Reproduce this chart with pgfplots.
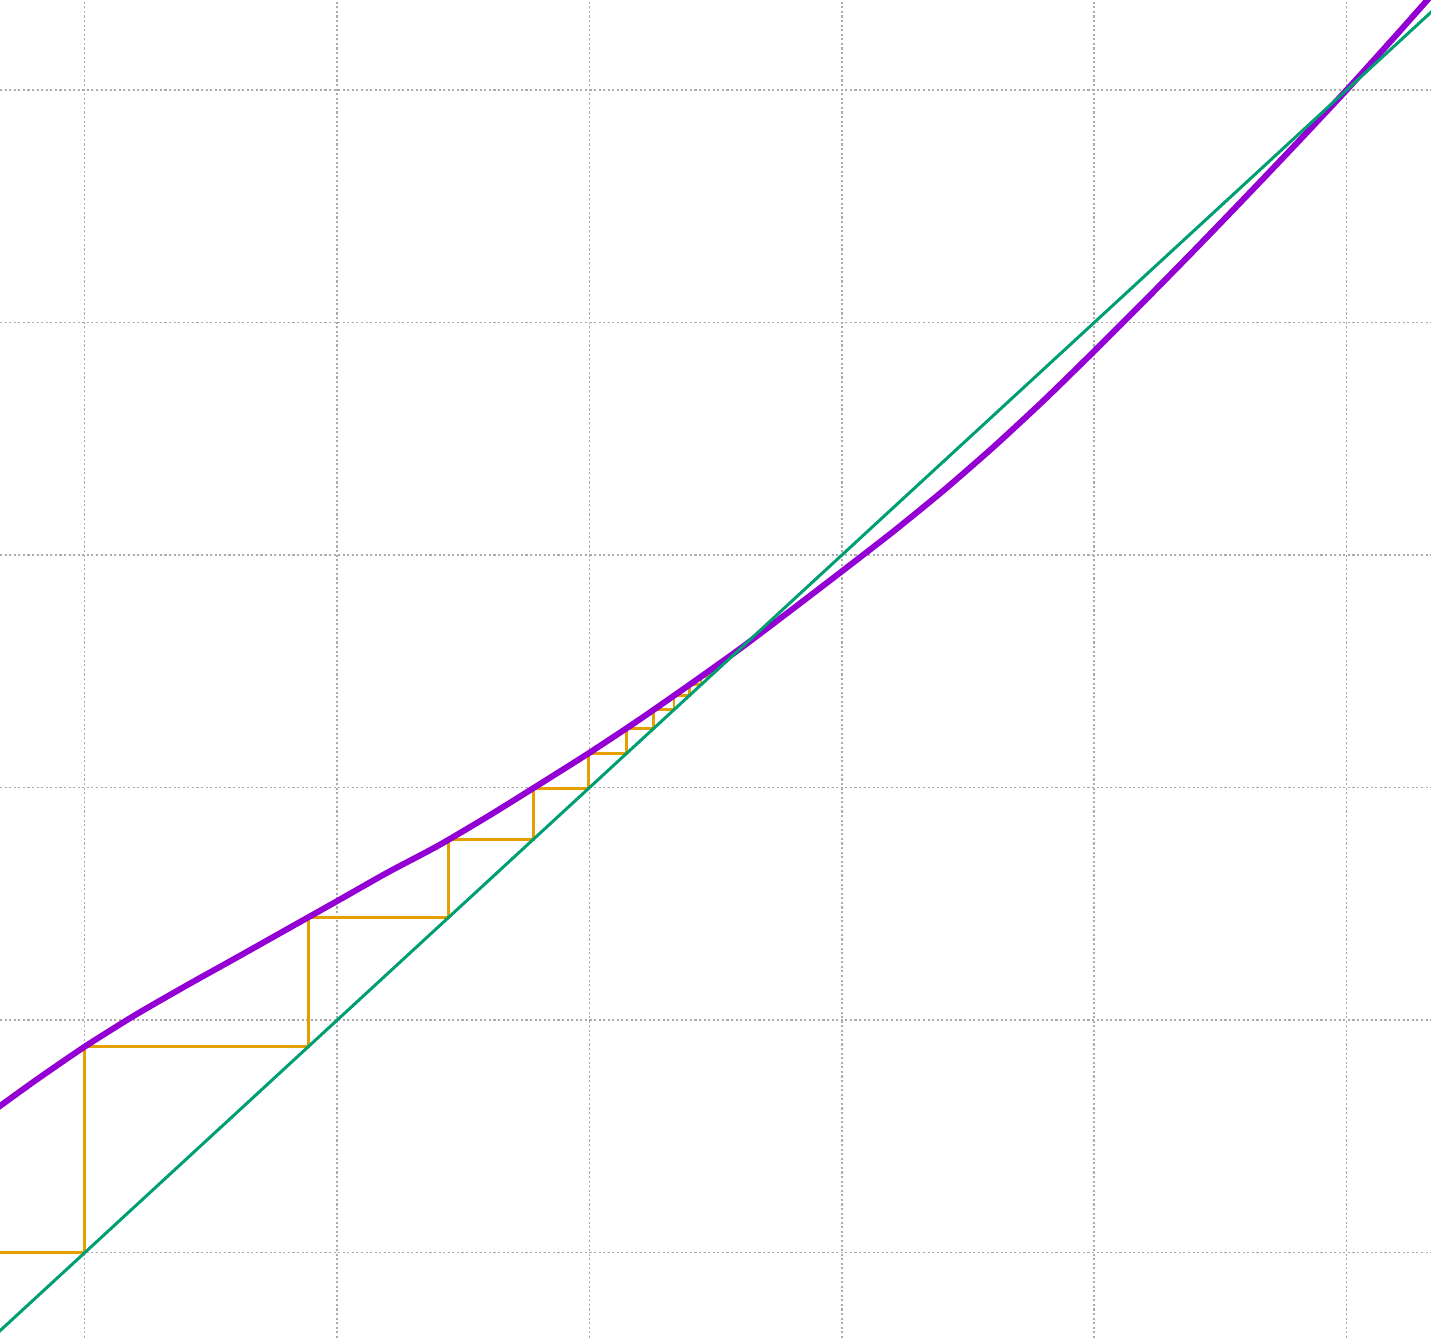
\documentclass[border=0pt]{standalone}
\usepackage{pgfplots}
\pgfplotsset{compat=1.18}
\definecolor{fcol}{HTML}{9400D3}
\definecolor{idcol}{HTML}{009E73}
\definecolor{webcol}{HTML}{E69F00}
\definecolor{gridcol}{HTML}{ABABAB}
\begin{document}
\begin{tikzpicture}
\begin{axis}[
  scale only axis,
  width=14.31cm, height=13.38cm,
  xmin=-0.3356, xmax=5.3344,
  ymin=-0.3668, ymax=5.387,
  axis line style={draw=none},
  xtick={0,1,2,3,4,5}, ytick={0,1,2,3,4,5},
  xticklabels={}, yticklabels={},
  major tick length=0pt,
  tick style={draw=none},
  grid=major,
  major grid style={gridcol, line width=0.42pt, dash pattern=on 0.6pt off 0.7pt},
  clip=true,
]
% cobweb
\addplot[webcol, line width=0.8pt, line join=miter] coordinates {
 (-0.3356,0) (0,0) (0,0.886) (0.886,0.886) (0.886,1.442) (1.442,1.442)
 (1.442,1.777) (1.777,1.777) (1.777,1.997) (1.997,1.997) (1.997,2.148)
 (2.148,2.148) (2.148,2.2545) (2.2545,2.2545) (2.2545,2.335) (2.335,2.335)
 (2.335,2.396) (2.396,2.396) (2.396,2.442) (2.442,2.442) (2.442,2.4775)
 (2.4775,2.4775) (2.4775,2.505) (2.505,2.505) (2.505,2.527) (2.527,2.527)
 (2.527,2.543) (2.543,2.543) (2.543,2.556) (2.556,2.556) (2.556,2.566)
 (2.566,2.566) (2.566,2.574) (2.574,2.574)
};
% map
\addplot[fcol, line width=1.7pt, smooth, tension=0.4] coordinates {
 (-0.4,0.580) (-0.2,0.737) (0.0,0.886) (0.2,1.022) (0.4,1.147) (0.6,1.268)
 (0.8,1.390) (1.0,1.512) (1.2,1.635) (1.4,1.750) (1.6,1.878) (1.8,2.013)
 (2.0,2.150) (2.2,2.294) (2.4,2.445) (2.6,2.600) (2.8,2.764) (3.0,2.930)
 (3.2,3.098) (3.4,3.275) (3.6,3.464) (3.8,3.665) (4.0,3.877) (4.2,4.094)
 (4.4,4.315) (4.6,4.540) (4.8,4.768) (5.0,5.000) (5.2,5.240) (5.4,5.485)
};
% identity
\addplot[idcol, line width=0.85pt] coordinates {(-0.5,-0.5) (5.5,5.5)};
\end{axis}
\pgfresetboundingbox
\path[use as bounding box] (current axis.south west) rectangle (current axis.north east);
\end{tikzpicture}
\end{document}
